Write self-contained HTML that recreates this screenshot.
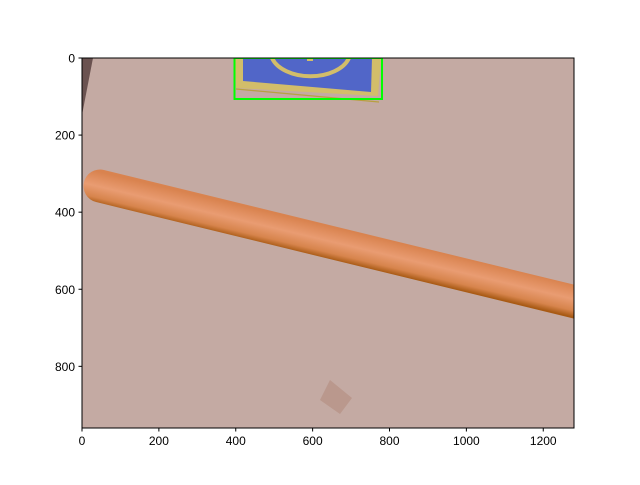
<!DOCTYPE html>
<html><head><meta charset="utf-8"><style>
body{margin:0;background:#fff}
text{font-family:"Liberation Sans","DejaVu Sans",sans-serif;font-size:12px;fill:#000}
</style></head><body>
<svg width="640" height="480">
<defs>
<linearGradient id="pg" gradientUnits="userSpaceOnUse" x1="333.7" y1="227.4" x2="326.3" y2="258.6">
<stop offset="0" stop-color="#d9834f"/><stop offset="0.45" stop-color="#e99c72"/><stop offset="0.8" stop-color="#d7844c"/><stop offset="1" stop-color="#a85a14"/>
</linearGradient>
<clipPath id="ax"><rect x="82" y="58" width="492" height="370"/></clipPath>
</defs>
<g clip-path="url(#ax)">
<rect x="82" y="58" width="492" height="370" fill="#c4aaa3"/>
<polygon points="330,380 352,398 340,414 320,400" fill="#b89487" opacity="0.8"/>
<polygon points="82,58 93,58 82,115" fill="#6a5250"/>
<g>
<polygon points="235,58 381,58 378,96 236,88" fill="#d2bd6a"/>
<line x1="236" y1="89" x2="379" y2="102" stroke="#b8a040" stroke-width="1.2"/>
<polygon points="243,58 372,58 371,92 243,81" fill="#5166c8"/>
<path d="M272,58 A40,25 0 0 0 349,58" fill="none" stroke="#d2bd6a" stroke-width="4"/>
<rect x="307" y="58" width="6" height="3" fill="#d2bd6a"/>
</g>
<rect x="234.5" y="58" width="147.5" height="41" fill="none" stroke="#00ff00" stroke-width="2"/>
<line x1="100" y1="186" x2="600" y2="308" stroke="url(#pg)" stroke-width="33" stroke-linecap="round"/>
</g>
<rect x="82" y="58" width="492" height="370" fill="none" stroke="#000" stroke-width="1"/>
<g id="xt"></g>
<g id="yt"></g>
</svg>
<script>
const xTicks=[0,200,400,600,800,1000,1200];
const yTicks=[0,200,400,600,800];
const ns="http://www.w3.org/2000/svg";
const sx=v=>82+v*492/1280, sy=v=>58+v*370/960;
const xg=document.getElementById('xt'), yg=document.getElementById('yt');
xTicks.forEach(v=>{
 const l=document.createElementNS(ns,'line');
 l.setAttribute('x1',sx(v));l.setAttribute('x2',sx(v));l.setAttribute('y1',428);l.setAttribute('y2',431.5);l.setAttribute('stroke','#000');
 
 
 xg.appendChild(l);
 const t=document.createElementNS(ns,'text');
 t.setAttribute('x',sx(v));t.setAttribute('y',445);t.setAttribute('text-anchor','middle');t.textContent=v;
 
 
 xg.appendChild(t);
});
yTicks.forEach(v=>{
 const l=document.createElementNS(ns,'line');
 l.setAttribute('x1',78.5);l.setAttribute('x2',82);l.setAttribute('y1',sy(v));l.setAttribute('y2',sy(v));l.setAttribute('stroke','#000');
 
 
 yg.appendChild(l);
 const t=document.createElementNS(ns,'text');
 t.setAttribute('x',75);t.setAttribute('y',sy(v)+4.5);t.setAttribute('text-anchor','end');t.textContent=v;
 
 
 yg.appendChild(t);
});
</script>
</body></html>
